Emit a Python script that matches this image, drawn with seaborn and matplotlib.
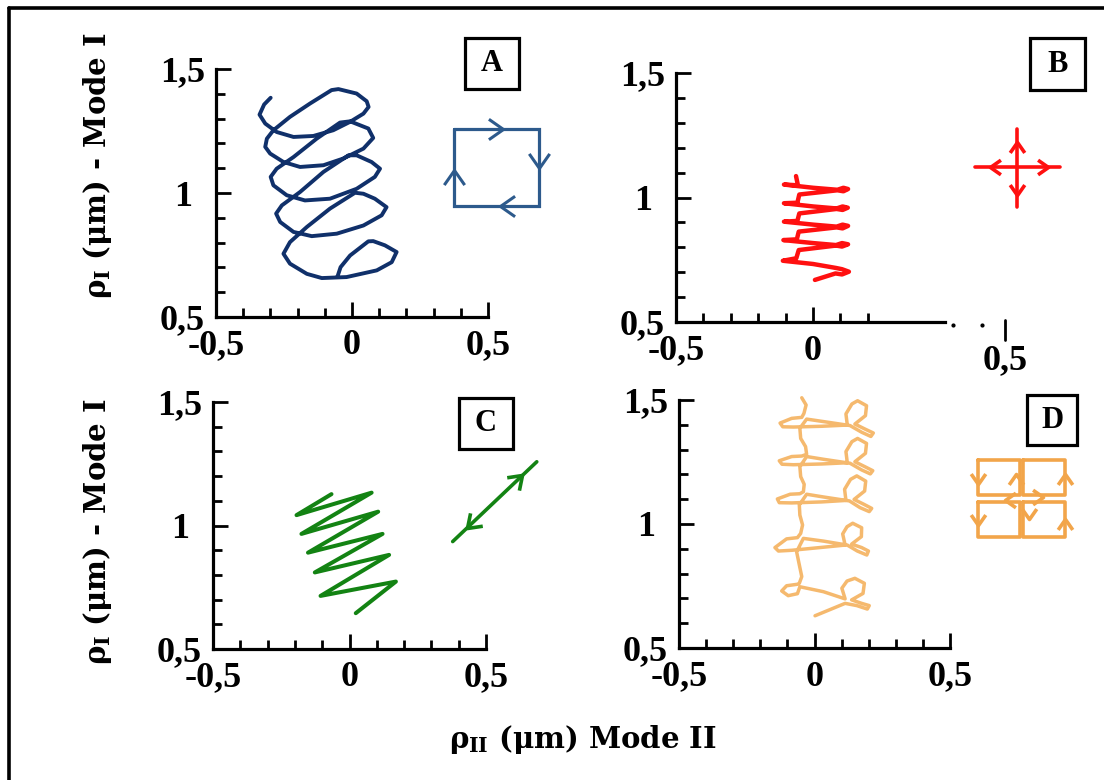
import numpy as np
import matplotlib
matplotlib.use("Agg")
import matplotlib.pyplot as plt
import seaborn as sns
from matplotlib.path import Path
from matplotlib.patches import Rectangle
from matplotlib.lines import Line2D

# ---------------- data ----------------
x_ticks = [-0.5, 0, 0.5]
x_tick_labels = ["-0,5", "0", "0,5"]
y_ticks = [0.5, 1, 1.5]
y_tick_labels = ["0,5", "1", "1,5"]
minor_ticks = [-0.4, -0.3, -0.2, -0.1, 0.1, 0.2, 0.3, 0.4]
y_minor_ticks = [0.6, 0.7, 0.8, 0.9, 1.1, 1.2, 1.3, 1.4]
b_x_ticks = [-0.5, 0]
b_x_tick_labels = ["-0,5", "0"]
b_minor_ticks = [-0.4, -0.3, -0.2, -0.1, 0.1, 0.2]

panel_letters = ["A", "B", "C", "D"]
y_label = r"$\rho_{\mathrm{I}}$ (μm) - Mode I"
x_label = r"$\rho_{\mathrm{II}}$ (μm) Mode II"

# Panel A : helix (navy)
a_x = [-0.299, -0.323, -0.340, -0.319, -0.277, -0.215, -0.142, -0.069, -0.007, 0.042,
       0.061, 0.054, 0.017, -0.050, -0.075, -0.154, -0.228, -0.289, -0.313, -0.319,
       -0.301, -0.252, -0.191, -0.105, -0.032, 0.042, 0.078, 0.060, -0.007, -0.044,
       -0.130, -0.215, -0.277, -0.299, -0.289, -0.240, -0.173, -0.081, 0.017, 0.084,
       0.103, 0.072, 0.017, -0.013, -0.105, -0.191, -0.258, -0.279, -0.264, -0.215,
       -0.148, -0.056, 0.042, 0.109, 0.127, 0.084, 0.042, 0.011, -0.081, -0.166,
       -0.228, -0.252, -0.228, -0.166, -0.111, -0.020, 0.091, 0.146, 0.164, 0.121,
       0.078, 0.060, -0.007, -0.042, -0.054]
a_y = [1.384, 1.357, 1.316, 1.280, 1.246, 1.226, 1.230, 1.253, 1.287, 1.320,
       1.347, 1.370, 1.401, 1.419, 1.415, 1.361, 1.307, 1.253, 1.219, 1.186,
       1.159, 1.125, 1.105, 1.112, 1.139, 1.179, 1.222, 1.260, 1.289, 1.284,
       1.219, 1.145, 1.098, 1.065, 1.031, 0.991, 0.970, 0.977, 1.017, 1.065,
       1.098, 1.125, 1.152, 1.152, 1.085, 1.004, 0.950, 0.917, 0.883, 0.843,
       0.826, 0.836, 0.869, 0.910, 0.943, 0.977, 0.997, 1.001, 0.937, 0.863,
       0.802, 0.755, 0.715, 0.674, 0.657, 0.661, 0.688, 0.721, 0.762, 0.789,
       0.806, 0.805, 0.748, 0.701, 0.661]
a_icon_x = [0.375, 0.687, 0.687, 0.375, 0.375]
a_icon_y = [1.260, 1.260, 0.947, 0.947, 1.260]
a_arrow_x = [0.555, 0.687, 0.543, 0.375]
a_arrow_y = [1.260, 1.099, 0.947, 1.092]
a_arrow_dir = [0, 270, 180, 90]

# Panel B : zig-zag with blobs (red)
b_x = [-0.062, -0.055,
       -0.106, 0.001, 0.089, 0.111, 0.128, 0.111, 0.089, -0.050, -0.057,
       -0.106, 0.001, 0.086, 0.108, 0.127, 0.108, 0.086, -0.050, -0.057,
       -0.106, 0.001, 0.086, 0.108, 0.128, 0.108, 0.086, -0.052, -0.059,
       -0.108, 0.000, 0.084, 0.106, 0.128, 0.106, 0.084, -0.052, -0.061,
       -0.110, 0.000, 0.084, 0.106, 0.131, 0.106, 0.082, 0.007]
b_y = [1.086, 1.049,
       1.052, 1.039, 1.031, 1.039, 1.034, 1.025, 1.029, 1.012, 0.979,
       0.977, 0.964, 0.956, 0.964, 0.959, 0.950, 0.954, 0.936, 0.906,
       0.903, 0.891, 0.883, 0.891, 0.886, 0.876, 0.880, 0.863, 0.832,
       0.829, 0.817, 0.809, 0.817, 0.812, 0.803, 0.807, 0.789, 0.756,
       0.746, 0.733, 0.717, 0.712, 0.702, 0.691, 0.695, 0.669]
b_icon_h_x = [0.591, 0.901]
b_icon_h_y = [1.122, 1.122]
b_icon_v_x = [0.745, 0.745]
b_icon_v_y = [0.962, 1.275]
b_arrow_x = [0.646, 0.858, 0.745, 0.745]
b_arrow_y = [1.122, 1.122, 1.223, 1.010]
b_arrow_dir = [180, 0, 90, 270]

# Panel C : zig-zag (green)
c_x = [-0.066, -0.194, 0.081, -0.176, 0.105, -0.152, 0.121, -0.127, 0.145, -0.106, 0.170, 0.023]
c_y = [1.127, 1.042, 1.133, 0.966, 1.056, 0.890, 0.966, 0.810, 0.881, 0.715, 0.773, 0.645]
c_icon_x = [0.378, 0.686]
c_icon_y = [0.935, 1.258]
c_arrow_x = [0.631, 0.429]
c_arrow_y = [1.204, 0.989]
c_arrow_dir = [43.5, 223.5]

# Panel D : looped trajectory (light orange)
d_x = [-0.047, -0.031, -0.039, -0.047, -0.084, -0.127, -0.117, -0.078, 0.026, 0.121,
       0.116, 0.138, 0.159, 0.192, 0.188, 0.149, 0.186, 0.217, 0.208, 0.174,
       0.131, 0.033, -0.029, -0.054, -0.051, -0.033, -0.029,
       -0.047, -0.084, -0.130, -0.120, -0.078, 0.026, 0.121, 0.116, 0.138, 0.159,
       0.192, 0.188, 0.149, 0.186, 0.215, 0.206, 0.174, 0.131, 0.033, -0.029,
       -0.054, -0.051, -0.038, -0.041,
       -0.054, -0.090, -0.137, -0.130, -0.084, 0.026, 0.116, 0.111, 0.133, 0.156,
       0.189, 0.185, 0.146, 0.183, 0.211, 0.202, 0.168, 0.129, 0.033, -0.029,
       -0.056, -0.054, -0.044, -0.051,
       -0.063, -0.103, -0.146, -0.133, -0.084, 0.020, 0.113, 0.104, 0.120, 0.141,
       0.174, 0.173, 0.137, 0.174, 0.199, 0.193, 0.158, 0.121, 0.033, -0.041,
       -0.066, -0.056, -0.047, -0.056,
       -0.063, -0.103, -0.121, -0.097, -0.063, -0.054, 0.033, 0.113, 0.101, 0.120,
       0.149, 0.184, 0.179, 0.137, 0.174, 0.202, 0.195, 0.156, 0.113, 0.002]
d_y = [1.509, 1.480, 1.446, 1.430, 1.426, 1.407, 1.392, 1.391, 1.394, 1.399,
       1.444, 1.484, 1.497, 1.477, 1.437, 1.403, 1.383, 1.367, 1.353, 1.370,
       1.397, 1.413, 1.423, 1.386, 1.345, 1.312, 1.281,
       1.274, 1.272, 1.255, 1.241, 1.239, 1.242, 1.247, 1.292, 1.332, 1.345,
       1.325, 1.285, 1.251, 1.231, 1.215, 1.202, 1.218, 1.245, 1.261, 1.272,
       1.231, 1.191, 1.160, 1.130,
       1.122, 1.120, 1.101, 1.086, 1.085, 1.089, 1.095, 1.140, 1.180, 1.194,
       1.173, 1.133, 1.099, 1.079, 1.063, 1.050, 1.066, 1.093, 1.109, 1.120,
       1.077, 1.036, 0.996, 0.962,
       0.945, 0.940, 0.905, 0.891, 0.894, 0.905, 0.915, 0.960, 0.989, 1.003,
       0.985, 0.949, 0.919, 0.905, 0.891, 0.875, 0.891, 0.915, 0.931, 0.942,
       0.888, 0.835, 0.788, 0.761,
       0.757, 0.751, 0.730, 0.711, 0.719, 0.747, 0.727, 0.698, 0.741, 0.770,
       0.781, 0.761, 0.720, 0.694, 0.680, 0.671, 0.657, 0.671, 0.680, 0.630]
d_icon_x = [[0.603, 0.758, 0.758, 0.603, 0.603], [0.769, 0.924, 0.924, 0.769, 0.769],
            [0.603, 0.758, 0.758, 0.603, 0.603], [0.769, 0.924, 0.924, 0.769, 0.769]]
d_icon_y = [[1.258, 1.258, 1.117, 1.117, 1.258], [1.258, 1.258, 1.117, 1.117, 1.258],
            [1.089, 1.089, 0.948, 0.948, 1.089], [1.089, 1.089, 0.948, 0.948, 1.089]]
d_arrow_x = [0.603, 0.603, 0.924, 0.924, 0.745, 0.790, 0.843, 0.703]
d_arrow_y = [1.160, 0.995, 1.200, 1.020, 1.200, 1.020, 1.110, 1.095]
d_arrow_dir = [270, 270, 90, 90, 90, 270, 0, 180]

# ---------------- style ----------------
sns.set_theme(style="white")
plt.rcParams["font.family"] = ["DejaVu Serif", "DejaVu Sans"]
plt.rcParams["text.color"] = "black"
plt.rcParams["axes.labelcolor"] = "black"
plt.rcParams["xtick.color"] = "black"
plt.rcParams["ytick.color"] = "black"
plt.rcParams["mathtext.fontset"] = "custom"
plt.rcParams["mathtext.rm"] = "DejaVu Serif:bold"
plt.rcParams["mathtext.it"] = "DejaVu Serif:bold"
plt.rcParams["mathtext.bf"] = "DejaVu Serif:bold"

W, H = 1104, 780
fig = plt.figure(figsize=(W / 100, H / 100), dpi=100)
fig.patch.set_facecolor("white")

TICK_FONT = "Liberation Serif"


def px_axes(l, r, t, b):
    return fig.add_axes([l / W, 1 - b / H, (r - l) / W, (b - t) / H])


def style(ax, xt, xtl, xmin):
    ax.set_xlim(-0.5, 0.5)
    ax.set_ylim(0.5, 1.5)
    ax.set_facecolor("none")
    ax.grid(False)
    for s in ["top", "right"]:
        ax.spines[s].set_visible(False)
    for s in ["left", "bottom"]:
        ax.spines[s].set_linewidth(2.3)
        ax.spines[s].set_color("black")
    ax.set_xticks(xt)
    ax.set_xticklabels(xtl)
    ax.set_xticks(xmin, minor=True)
    ax.set_yticks(y_ticks)
    ax.set_yticklabels(y_tick_labels)
    ax.set_yticks(y_minor_ticks, minor=True)
    ax.tick_params(which="major", direction="in", length=11, width=2.0,
                   color="black", labelsize=26, labelcolor="black")
    ax.tick_params(which="minor", direction="in", length=6.5, width=2.0, color="black")
    ax.tick_params(axis="x", which="major", pad=9, bottom=True)
    ax.tick_params(axis="y", which="major", pad=24, left=True)
    ax.tick_params(axis="x", which="minor", bottom=True)
    ax.tick_params(axis="y", which="minor", left=True)
    for lab in ax.get_xticklabels() + ax.get_yticklabels():
        lab.set_fontfamily(TICK_FONT)
        lab.set_fontweight("bold")
        lab.set_color("black")
    for lab in ax.get_yticklabels():
        lab.set_horizontalalignment("center")


def chevron(angle, spread=0.7):
    base = np.array([[-1.0, spread], [0.0, 0.0], [-1.0, -spread]])
    t = np.deg2rad(angle)
    rot = np.array([[np.cos(t), -np.sin(t)], [np.sin(t), np.cos(t)]])
    return Path(base @ rot.T, [Path.MOVETO, Path.LINETO, Path.LINETO])


def arrows(ax, xs, ys, dirs, color, ms, mew=2.2):
    for x, y, d in zip(xs, ys, dirs):
        ax.plot([x], [y], marker=chevron(d), ms=ms, mec=color, mfc="none",
                mew=mew, ls="none", clip_on=False)


def curve(ax, x, y, color, lw):
    sns.lineplot(x=np.array(x), y=np.array(y), sort=False, estimator=None,
                 errorbar=None, color=color, linewidth=lw, ax=ax, legend=False)
    ln = ax.lines[-1]
    ln.set_clip_on(False)
    ln.set_solid_joinstyle("round")
    ln.set_solid_capstyle("round")


# ---------------- panels ----------------
axA = px_axes(216, 488, 69, 317)
axB = px_axes(676, 950, 73, 322)
axC = px_axes(213, 486, 402, 649)
axD = px_axes(679, 950, 400, 648)

style(axA, x_ticks, x_tick_labels, minor_ticks)
style(axB, b_x_ticks, b_x_tick_labels, b_minor_ticks)
style(axC, x_ticks, x_tick_labels, minor_ticks)
style(axD, x_ticks, x_tick_labels, minor_ticks)

# A
navy = "#10306a"
iconblue = "#2d5a8c"
curve(axA, a_x, a_y, navy, 2.8)
axA.plot(a_icon_x, a_icon_y, color=iconblue, lw=2.3, clip_on=False,
         solid_joinstyle="miter")
arrows(axA, a_arrow_x, a_arrow_y, a_arrow_dir, iconblue, 21)

# B
red = "#ff1010"
curve(axB, b_x, b_y, red, 3.2)
axB.spines["bottom"].set_bounds(-0.5, 0.48)
axB.plot(b_icon_h_x, b_icon_h_y, color=red, lw=2.6, clip_on=False)
axB.plot(b_icon_v_x, b_icon_v_y, color=red, lw=2.6, clip_on=False)
arrows(axB, b_arrow_x, b_arrow_y, b_arrow_dir, red, 15, 2.6)
# the displaced 0,5 tick of panel B
axB.plot([0.70, 0.70], [0.508, 0.428], color="black", lw=2.0, clip_on=False)
axB.plot([0.511, 0.617], [0.486, 0.486], ls="none", marker="o", ms=2,
         color="black", clip_on=False)
axB.text(0.70, 0.412, "0,5", ha="center", va="top", fontsize=26,
         fontweight="bold", family=TICK_FONT, color="black")

# C
green = "#138313"
curve(axC, c_x, c_y, green, 2.9)
axC.plot(c_icon_x, c_icon_y, color=green, lw=2.6, clip_on=False)
arrows(axC, c_arrow_x, c_arrow_y, c_arrow_dir, green, 22, 2.6)

# D
orange = "#f5b96e"
dicon = "#f2a54a"
curve(axD, d_x, d_y, orange, 2.5)
for xs, ys in zip(d_icon_x, d_icon_y):
    axD.plot(xs, ys, color=dicon, lw=2.6, clip_on=False, solid_joinstyle="round")
arrows(axD, d_arrow_x, d_arrow_y, d_arrow_dir, dicon, 15, 2.6)

# ---------------- panel letter boxes ----------------
boxes = [(465, 519, 38, 89), (1030, 1085, 38, 90), (459, 513, 398, 449), (1027, 1077, 395, 445)]
for letter, (l, r, t, b) in zip(panel_letters, boxes):
    fig.add_artist(Rectangle((l / W, 1 - b / H), (r - l) / W, (b - t) / H,
                             transform=fig.transFigure, fill=True, fc="white",
                             ec="black", lw=2.3))
    fig.text((l + r) / 2 / W, 1 - (t + b) / 2 / H, letter, ha="center", va="center",
             fontsize=22, fontweight="bold", family=TICK_FONT, color="black")

# ---------------- shared labels ----------------
fig.text(97 / W, 1 - 166 / H, y_label, rotation=90, ha="center", va="center",
         fontsize=21, fontweight="bold", color="black")
fig.text(97 / W, 1 - 532 / H, y_label, rotation=90, ha="center", va="center",
         fontsize=21, fontweight="bold", color="black")
fig.text(583 / W, 1 - 740 / H, x_label, ha="center", va="center",
         fontsize=21, fontweight="bold", color="black")

# ---------------- outer frame ----------------
fig.add_artist(Line2D([9 / W, 9 / W], [0, 1 - 8 / H], transform=fig.transFigure,
                      color="black", lw=2.6))
fig.add_artist(Line2D([9 / W, 1], [1 - 8 / H, 1 - 8 / H], transform=fig.transFigure,
                      color="black", lw=2.6))

fig.savefig("out.png", dpi=100)
